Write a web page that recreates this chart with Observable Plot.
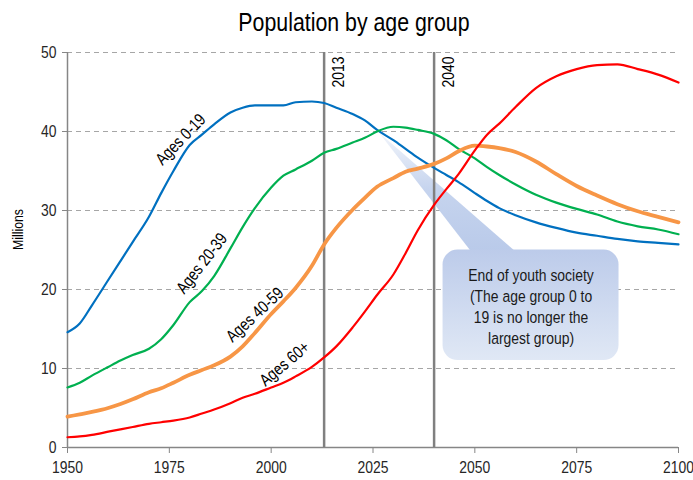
<!DOCTYPE html>
<html>
<head>
<meta charset="utf-8">
<script src="https://cdn.jsdelivr.net/npm/d3@7"></script>
<script src="https://cdn.jsdelivr.net/npm/@observablehq/plot@0.6"></script>
<style>
  html, body { margin: 0; padding: 0; background: #fff; }
  body { width: 693px; height: 480px; overflow: hidden; font-family: "Liberation Sans", Arial, sans-serif; }
  #title { height: 40px; box-sizing: border-box; padding-top: 8px; padding-left: 14px; text-align: center; font-size: 26px; line-height: 28px; color: #000; white-space: nowrap; }
  #title span { display: inline-block; transform: scaleX(0.82); transform-origin: 50% 50%; }
</style>
</head>
<body>
<div id="title"><span>Population by age group</span></div>
<div id="chart"></div>
<script>
// ---- data (millions) ----
const years = [1950,1953,1956,1960,1963,1966,1970,1973,1976,1980,1983,1986,1990,1993,1996,2000,2003,2006,2010,2013,2016,2020,2023,2026,2030,2033,2036,2040,2043,2046,2050,2053,2056,2060,2065,2070,2075,2080,2085,2090,2095,2100];
const ages0_19  = [14.6,15.7,18.0,21.2,23.6,26.0,29.2,32.2,35.0,38.3,39.6,40.9,42.4,43.0,43.3,43.3,43.3,43.7,43.8,43.6,43.0,42.2,41.4,40.2,38.9,37.8,36.7,35.4,34.5,33.6,32.2,31.2,30.3,29.4,28.5,27.8,27.2,26.8,26.4,26.1,25.9,25.7];
const ages20_39 = [7.6,8.2,9.1,10.2,11.0,11.7,12.5,13.7,15.5,18.4,19.8,21.7,25.2,27.9,30.3,32.9,34.4,35.2,36.3,37.3,37.8,38.6,39.2,40.0,40.6,40.5,40.2,39.7,38.9,37.8,36.6,35.5,34.5,33.3,32.0,31.0,30.2,29.5,28.6,28.0,27.6,27.0];
const ages40_59 = [3.9,4.2,4.5,5.0,5.5,6.1,7.0,7.5,8.2,9.2,9.8,10.4,11.5,12.8,14.5,16.9,18.5,20.2,23.0,25.7,27.8,30.1,31.6,33.0,34.1,34.9,35.3,35.9,36.6,37.5,38.2,38.1,37.9,37.4,36.2,34.6,33.1,31.9,30.8,29.9,29.2,28.5];
const ages60p   = [1.3,1.4,1.6,2.0,2.3,2.6,3.0,3.2,3.4,3.8,4.3,4.8,5.6,6.3,6.8,7.6,8.2,9.0,10.2,11.4,12.8,15.2,17.2,19.3,21.9,24.6,27.5,30.7,32.7,34.6,37.6,39.6,41.0,43.1,45.5,47.0,47.9,48.4,48.5,47.9,47.2,46.2];

const seriesNames  = ["Ages 0-19", "Ages 20-39", "Ages 40-59", "Ages 60+"];
const seriesValues = [ages0_19, ages20_39, ages40_59, ages60p];
const seriesColors = ["#0070C0", "#00B050", "#F79646", "#FF0000"];
const seriesWidths = [2.2, 2.2, 3.8, 2.2];

// line labels (year, value, angle)
const labelYears  = [1977.8, 1983.0, 1996.0, 2003.3];
const labelValues = [39.0, 23.3, 16.8, 10.6];
const labelAngles = [-46, -52, -43, -40];

const xTicks = [1950, 1975, 2000, 2025, 2050, 2075, 2100];
const yTicks = [0, 10, 20, 30, 40, 50];
const gridValues = [10, 20, 30, 40, 50];
const eventYears = [2013, 2040];

// callout
const calloutText = "End of youth society\n(The age group 0 to\n19 is no longer the\nlargest group)";
const calloutCenter = {year: 2063.8, value: 17.9};
const calloutBox = [{x1: 2042.2, x2: 2085.4, y1: 11.0, y2: 25.0}];
const pointerYears  = [2026.4, 2050.3, 2061.8];
const pointerValues = [39.9, 24.0, 24.0];

// ---- build tables ----
const tables = seriesNames.map((name, i) => years.map((yr, j) => ({year: yr, value: seriesValues[i][j], name})));
const labels = seriesNames.map((name, i) => ({name, year: labelYears[i], value: labelValues[i], angle: labelAngles[i]}));
const pointer = pointerYears.map((yr, i) => ({year: yr, value: pointerValues[i]}));

const font = "'Liberation Sans', Arial, sans-serif";

const marks = [
  Plot.ruleY(gridValues, {stroke: "#a6a6a6", strokeWidth: 1.2, strokeDasharray: "5,4"}),
  Plot.ruleX([1950], {y1: 0, y2: 50, stroke: "#868686", strokeWidth: 1.5}),
  Plot.ruleY([0], {stroke: "#868686", strokeWidth: 1.5}),
  Plot.axisX({ticks: xTicks, tickFormat: d => String(d), tickSize: 6, tickPadding: 7, stroke: "#868686", fill: "#262626", fontSize: 17, label: null}),
  Plot.axisY({ticks: yTicks, tickSize: 5, tickPadding: 6, stroke: "#868686", fill: "#262626", fontSize: 17, label: null}),
  Plot.text(["Millions"], {frameAnchor: "left", dx: -49, rotate: -90, fontSize: 15, fill: "#000"}),
  Plot.line(pointer, {x: "year", y: "value", fill: "url(#ptrGrad)", stroke: "none"}),
  Plot.ruleX(eventYears, {y1: 0, y2: 50, stroke: "#808080", strokeWidth: 2.5}),
  Plot.text(eventYears, {x: d => d, y: 50, text: d => String(d), rotate: -90, textAnchor: "end", dx: 14, dy: 4, fontSize: 17, fill: "#000"})
];
tables.forEach((t, i) => {
  marks.push(Plot.line(t, {x: "year", y: "value", stroke: seriesColors[i], strokeWidth: seriesWidths[i], curve: "monotone-x"}));
});
labels.forEach(l => {
  marks.push(Plot.text([l], {x: "year", y: "value", text: "name", rotate: l.angle, fontSize: 17, fill: "#000"}));
});
marks.push(Plot.rect(calloutBox, {x1: "x1", x2: "x2", y1: "y1", y2: "y2", fill: "url(#boxGrad)", rx: 15}));
marks.push(Plot.text([calloutText], {x: calloutCenter.year, y: calloutCenter.value, text: d => d, fontSize: 17, lineHeight: 1.24, fill: "#1a1a1a"}));

const chart = Plot.plot({
  width: 693,
  height: 440,
  marginTop: 12,
  marginBottom: 33,
  marginLeft: 67,
  marginRight: 15,
  style: {fontFamily: font, fontSize: "16px", background: "#fff", overflow: "visible"},
  x: {domain: [1950, 2100]},
  y: {domain: [0, 50]},
  marks
});

// gradients
const svgSel = d3.select(chart);
const defs = svgSel.insert("defs", ":first-child");
const g1 = defs.append("linearGradient").attr("id", "ptrGrad").attr("x1", 0).attr("y1", 0).attr("x2", 0).attr("y2", 1);
g1.append("stop").attr("offset", "0%").attr("stop-color", "#f2f5fb");
g1.append("stop").attr("offset", "45%").attr("stop-color", "#c6d4ee");
g1.append("stop").attr("offset", "100%").attr("stop-color", "#b8c9e9");
const g2 = defs.append("linearGradient").attr("id", "boxGrad").attr("x1", 0).attr("y1", 0).attr("x2", 0).attr("y2", 1);
g2.append("stop").attr("offset", "0%").attr("stop-color", "#bccbea");
g2.append("stop").attr("offset", "100%").attr("stop-color", "#e0e8f5");

// condense glyphs (narrow font look) around each text's own anchor
const NARROW = 0.82;
svgSel.selectAll("text").each(function() {
  const t = d3.select(this);
  const tr = t.attr("transform");
  if (tr) {
    t.attr("transform", tr + ` scale(${NARROW},1)`);
  } else {
    const x = +(t.attr("x") || 0), y = +(t.attr("y") || 0);
    t.attr("transform", `translate(${x},${y}) scale(${NARROW},1) translate(${-x},${-y})`);
  }
});

document.getElementById("chart").appendChild(chart);
</script>
</body>
</html>
